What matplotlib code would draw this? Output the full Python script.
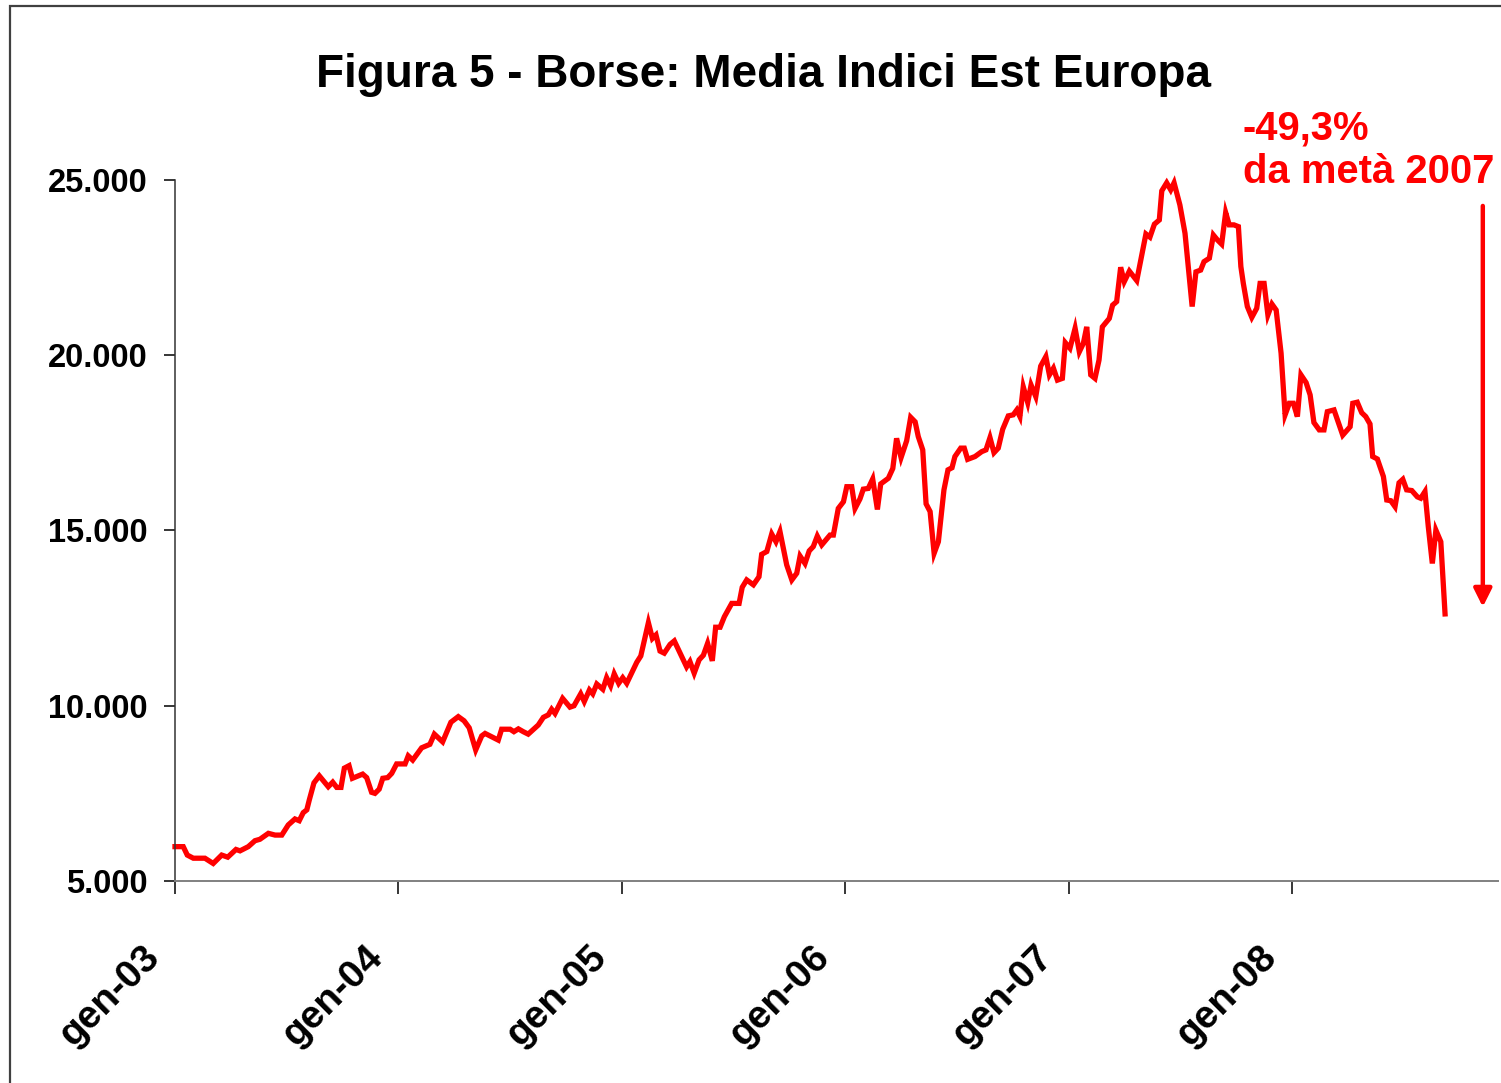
import matplotlib
matplotlib.use("Agg")
import matplotlib.pyplot as plt
from matplotlib.patches import Rectangle
from matplotlib.ticker import FuncFormatter
from matplotlib.transforms import ScaledTranslation

plt.rcParams['font.family'] = ['Liberation Sans', 'DejaVu Sans']
plt.rcParams['font.weight'] = 'bold'

# weekly index level, dates as decimal years
dates = [
    2003.000, 2003.037, 2003.055, 2003.082, 2003.134, 2003.171, 2003.209, 2003.236, 2003.273, 2003.291,
    2003.328, 2003.358, 2003.380, 2003.418, 2003.448, 2003.478, 2003.507, 2003.537, 2003.556, 2003.574,
    2003.590, 2003.601, 2003.622, 2003.646, 2003.686, 2003.706, 2003.724, 2003.743, 2003.758, 2003.779,
    2003.794, 2003.840, 2003.858, 2003.880, 2003.895, 2003.914, 2003.930, 2003.952, 2003.970, 2003.992,
    2004.030, 2004.044, 2004.064, 2004.104, 2004.141, 2004.161, 2004.198, 2004.235, 2004.268, 2004.294,
    2004.317, 2004.346, 2004.373, 2004.388, 2004.447, 2004.462, 2004.500, 2004.517, 2004.537, 2004.559,
    2004.581, 2004.626, 2004.649, 2004.671, 2004.686, 2004.701, 2004.735, 2004.768, 2004.786, 2004.816,
    2004.832, 2004.855, 2004.870, 2004.888, 2004.915, 2004.932, 2004.950, 2004.966, 2004.986, 2005.004,
    2005.022, 2005.067, 2005.085, 2005.119, 2005.137, 2005.153, 2005.171, 2005.190, 2005.216, 2005.235,
    2005.290, 2005.305, 2005.324, 2005.346, 2005.365, 2005.384, 2005.405, 2005.420, 2005.440, 2005.459,
    2005.492, 2005.525, 2005.539, 2005.559, 2005.589, 2005.614, 2005.626, 2005.649, 2005.671, 2005.690,
    2005.708, 2005.738, 2005.761, 2005.783, 2005.798, 2005.820, 2005.839, 2005.857, 2005.875, 2005.895,
    2005.932, 2005.947, 2005.969, 2005.992, 2006.007, 2006.029, 2006.044, 2006.066, 2006.081, 2006.103,
    2006.123, 2006.144, 2006.159, 2006.193, 2006.213, 2006.230, 2006.250, 2006.275, 2006.293, 2006.313,
    2006.327, 2006.347, 2006.362, 2006.380, 2006.398, 2006.417, 2006.442, 2006.460, 2006.478, 2006.491,
    2006.517, 2006.533, 2006.548, 2006.581, 2006.611, 2006.630, 2006.648, 2006.666, 2006.685, 2006.705,
    2006.730, 2006.752, 2006.768, 2006.782, 2006.797, 2006.817, 2006.832, 2006.853, 2006.875, 2006.898,
    2006.914, 2006.932, 2006.950, 2006.972, 2006.985, 2007.006, 2007.029, 2007.048, 2007.066, 2007.081,
    2007.099, 2007.118, 2007.136, 2007.151, 2007.182, 2007.197, 2007.215, 2007.233, 2007.249, 2007.272,
    2007.305, 2007.346, 2007.364, 2007.384, 2007.406, 2007.417, 2007.439, 2007.457, 2007.472, 2007.498,
    2007.521, 2007.553, 2007.570, 2007.591, 2007.606, 2007.630, 2007.648, 2007.666, 2007.685, 2007.703,
    2007.719, 2007.740, 2007.760, 2007.771, 2007.782, 2007.800, 2007.820, 2007.842, 2007.857, 2007.875,
    2007.892, 2007.910, 2007.929, 2007.951, 2007.969, 2007.988, 2008.006, 2008.024, 2008.040, 2008.063,
    2008.081, 2008.098, 2008.122, 2008.143, 2008.158, 2008.188, 2008.227, 2008.260, 2008.272, 2008.292,
    2008.312, 2008.330, 2008.349, 2008.361, 2008.382, 2008.409, 2008.424, 2008.442, 2008.461, 2008.479,
    2008.496, 2008.513, 2008.536, 2008.561, 2008.576, 2008.595, 2008.610, 2008.628, 2008.644, 2008.666,
    2008.685,
]

media_est_europa = [
    5980, 5980, 5740, 5650, 5650, 5500, 5740, 5680, 5900, 5860,
    5980, 6150, 6190, 6360, 6310, 6310, 6600, 6770, 6720, 6950,
    7030, 7310, 7800, 8000, 7690, 7820, 7670, 7670, 8220, 8290,
    7930, 8050, 7950, 7530, 7500, 7620, 7930, 7950, 8070, 8340,
    8340, 8570, 8450, 8800, 8900, 9190, 8970, 9530, 9690, 9570,
    9370, 8740, 9140, 9210, 9020, 9330, 9330, 9260, 9340, 9260,
    9190, 9450, 9670, 9740, 9900, 9780, 10210, 9960, 10000, 10340,
    10120, 10450, 10340, 10620, 10470, 10800, 10570, 10910, 10640, 10800,
    10640, 11240, 11420, 12370, 11920, 12020, 11560, 11500, 11750, 11850,
    11110, 11260, 10930, 11310, 11440, 11780, 11280, 12240, 12240, 12540,
    12920, 12920, 13380, 13590, 13450, 13680, 14320, 14400, 14900, 14680,
    14970, 14020, 13590, 13780, 14270, 14060, 14420, 14540, 14840, 14590,
    14870, 14870, 15630, 15820, 16250, 16250, 15630, 15900, 16180, 16200,
    16470, 15600, 16330, 16490, 16770, 17630, 17080, 17560, 18230, 18100,
    17680, 17300, 15760, 15540, 14350, 14680, 16160, 16730, 16790, 17110,
    17350, 17350, 17030, 17110, 17250, 17300, 17650, 17220, 17350, 17890,
    18270, 18300, 18440, 18250, 19100, 18650, 19150, 18820, 19690, 19960,
    19440, 19630, 19290, 19340, 20360, 20200, 20770, 20100, 20340, 20810,
    19440, 19340, 19860, 20810, 21050, 21430, 21530, 22510, 22100, 22400,
    22130, 23460, 23370, 23740, 23860, 24690, 24920, 24720, 24920, 24290,
    23480, 21390, 22380, 22430, 22670, 22770, 23430, 23290, 23170, 24070,
    23720, 23720, 23670, 22530, 22050, 21390, 21080, 21340, 22050, 22050,
    21150, 21460, 21290, 20060, 18300, 18630, 18630, 18250, 19440, 19220,
    18870, 18080, 17870, 17870, 18390, 18440, 17720, 17960, 18630, 18660,
    18360, 18250, 18040, 17110, 17040, 16540, 15870, 15850, 15680, 16360,
    16460, 16160, 16140, 15960, 15920, 16110, 15110, 14060, 15010, 14680,
    12620,
]

year_ticks = [2003, 2004, 2005, 2006, 2007, 2008]
year_labels = ['gen-03', 'gen-04', 'gen-05', 'gen-06', 'gen-07', 'gen-08']
y_ticks = [5000, 10000, 15000, 20000, 25000]

fig = plt.figure(figsize=(15.01, 10.83), dpi=100)
W, H = 1501, 1083

# outer frame (only left and top edges are inside the picture)
fig.add_artist(Rectangle((10 / W, -0.5), 2.0, 1.5 - 5.5 / H, transform=fig.transFigure,
                         fill=False, edgecolor='#404040', linewidth=1.6))

ax = fig.add_axes([175 / W, 1 - 881 / H, (1498 - 175) / W, (881 - 180) / H])
ax.plot(dates, media_est_europa, color='#ff0000', linewidth=3.8, clip_on=False,
        solid_joinstyle='miter')

ax.set_xlim(2003.0, 2008.922)
ax.set_ylim(5000, 25000)
ax.set_xticks(year_ticks)
ax.set_xticklabels(year_labels, rotation=45, ha='right', va='top', rotation_mode='anchor')
ax.set_yticks(y_ticks)
ax.yaxis.set_major_formatter(FuncFormatter(lambda v, p: f"{int(v):,}".replace(',', '.')))

for s in ['top', 'right']:
    ax.spines[s].set_visible(False)
ax.spines['left'].set_color('#333333')
ax.spines['bottom'].set_color('#808080')
ax.spines['left'].set_linewidth(1.1)
ax.spines['bottom'].set_linewidth(1.4)
ax.tick_params(axis='y', direction='out', length=8, width=1.1, pad=12, labelsize=23.5)
ax.tick_params(axis='x', direction='out', length=9.5, width=1.1, pad=0, labelsize=28)
for lab in ax.get_yticklabels():
    lab.set_fontweight('bold')
shift = ScaledTranslation(-33.7 / 100, -44.5 / 100, fig.dpi_scale_trans)
for lab in ax.get_xticklabels():
    lab.set_fontweight('bold')
    lab.set_transform(lab.get_transform() + shift)

fig.text(763.5 / W, 1 - 86.7 / H, 'Figura 5 - Borse: Media Indici Est Europa',
         ha='center', va='baseline', fontsize=33, fontweight='bold')

# annotation
fig.text(1243 / W, 1 - 139.3 / H, '-49,3%', ha='left', va='baseline',
         fontsize=28.8, fontweight='bold', color='#ff0000')
fig.text(1243 / W, 1 - 183.3 / H, 'da metà 2007', ha='left', va='baseline',
         fontsize=28.8, fontweight='bold', color='#ff0000')
ax.annotate('', xy=(2008.854, 12820), xytext=(2008.854, 24260),
            arrowprops=dict(arrowstyle='-|>,head_length=0.54,head_width=0.27',
                            mutation_scale=20, color='#ff0000', lw=3.2,
                            shrinkA=0, shrinkB=0),
            annotation_clip=False)

fig.savefig('out.png', dpi=100)
